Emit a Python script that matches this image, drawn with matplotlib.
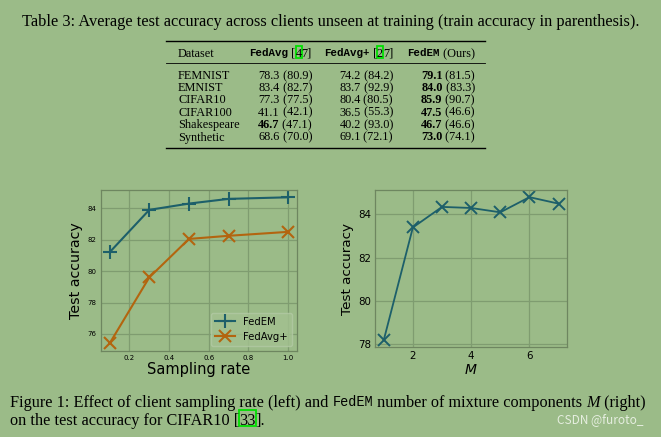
import matplotlib
matplotlib.use("Agg")
import matplotlib.pyplot as plt
from matplotlib.patches import Rectangle

# ---- data ----
datasets = ["FEMNIST", "EMNIST", "CIFAR10", "CIFAR100", "Shakespeare", "Synthetic"]
fedavg_test = [78.3, 83.4, 77.3, 41.1, 46.7, 68.6]
fedavg_train = [80.9, 82.7, 77.5, 42.1, 47.1, 70.0]
fedavgp_test = [74.2, 83.7, 80.4, 36.5, 40.2, 69.1]
fedavgp_train = [84.2, 92.9, 80.5, 55.3, 93.0, 72.1]
fedem_test = [79.1, 84.0, 85.9, 47.5, 46.7, 73.0]
fedem_train = [81.5, 83.3, 90.7, 46.6, 46.6, 74.1]

sampling_rate = [0.1, 0.3, 0.5, 0.7, 1.0]
acc_fedem = [81.2, 83.9, 84.3, 84.6, 84.7]
acc_fedavgp = [75.4, 79.6, 82.05, 82.25, 82.5]

n_components = [1, 2, 3, 4, 5, 6, 7]
acc_m = [78.2, 83.4, 84.35, 84.3, 84.1, 84.8, 84.5]

# ---- style ----
W, H = 661, 437
bg = '#9bbb88'
teal = '#1d5f6a'
orange = '#b3650f'
gridc = '#7f9c70'
spinec = '#6e8660'
link = '#00e000'

serif = dict(family='Liberation Serif', color='black')
mono = dict(family='Liberation Mono', color='black')

fig = plt.figure(figsize=(W / 100, H / 100), dpi=100, facecolor=bg)
r = fig.canvas.get_renderer()


def width(s, props):
    a = fig.text(0, 0, '|' + s + '|', **props)
    b = fig.text(0, 0, '||', **props)
    w = a.get_window_extent(r).width - b.get_window_extent(r).width
    a.remove()
    b.remove()
    return w


def put(x, y, pieces, ha='left'):
    # pieces: (text, props, boxed)
    ws = [width(s, p) for s, p, _ in pieces]
    if ha == 'right':
        x = x - sum(ws)
    for (s, p, boxed), w in zip(pieces, ws):
        fig.text(x / W, 1 - y / H, s, va='center_baseline', ha='left', **p)
        if boxed:
            fs = p.get('size', 10) * 100 / 72
            fig.patches.append(Rectangle((x / W, 1 - (y + 0.42 * fs) / H), w / W, 0.95 * fs / H,
                                         transform=fig.transFigure, fill=False,
                                         edgecolor=link, lw=1.3))
        x += w


cs = 11.8
cap = dict(serif, size=cs)
put(22, 20, [("Table 3: Average test accuracy across clients unseen at training (train accuracy in parenthesis).", cap, False)])

# ---- table ----
ts = 8.8
tser = dict(serif, size=ts)
tserb = dict(serif, size=ts, weight='bold')
tmonob = dict(mono, size=ts * 0.88, weight='bold')

fig.lines.append(plt.Line2D([166 / W, 485 / W], [1 - 41 / H, 1 - 41 / H], color='black', lw=1.0, transform=fig.transFigure))
fig.lines.append(plt.Line2D([166 / W, 485 / W], [1 - 63 / H, 1 - 63 / H], color='black', lw=0.6, transform=fig.transFigure))
fig.lines.append(plt.Line2D([166 / W, 485 / W], [1 - 148 / H, 1 - 148 / H], color='black', lw=1.0, transform=fig.transFigure))

col_right = [312, 393, 475]
hy = 52.5
put(178, hy, [("Dataset", tser, False)])
put(col_right[0], hy, [("FedAvg", tmonob, False), (" [", tser, False), ("4", tser, True), ("7]", tser, False)], ha='right')
put(col_right[1], hy, [("FedAvg+", tmonob, False), (" [", tser, False), ("2", tser, True), ("7]", tser, False)], ha='right')
put(col_right[2], hy, [("FedEM", tmonob, False), (" (Ours)", tser, False)], ha='right')

row_y = [74.5, 86.5, 98.5, 111, 123.5, 136]
for i, name in enumerate(datasets):
    y = row_y[i]
    put(178, y, [(name, tser, False)])
    best = max(fedavg_test[i], fedavgp_test[i], fedem_test[i])
    cols = [(fedavg_test[i], fedavg_train[i]), (fedavgp_test[i], fedavgp_train[i]), (fedem_test[i], fedem_train[i])]
    for (te, tr), xr in zip(cols, col_right):
        p = tserb if te == best else tser
        put(xr, y, [("%.1f" % te, p, False), (" (%.1f)" % tr, tser, False)], ha='right')

# ---- left plot ----
ax1 = fig.add_axes([100.7 / W, 1 - 350.7 / H, (297 - 100.7) / W, (350.7 - 190) / H])
ax1.plot(sampling_rate, acc_fedem, color=teal, marker='+', ms=10, mew=1.5, lw=1.5, label='FedEM')
ax1.plot(sampling_rate, acc_fedavgp, color=orange, marker='x', ms=9, mew=1.5, lw=1.5, label='FedAvg+')
ax1.set_xticks([0.2, 0.4, 0.6, 0.8, 1.0])
ax1.set_yticks([76, 78, 80, 82, 84])
ax1.tick_params(labelsize=5, length=0, pad=3)
ax1.set_xlabel('Sampling rate', fontsize=10.5, labelpad=1)
ax1.set_ylabel('Test accuracy', fontsize=10.2, labelpad=3)
ax1.legend(loc='lower right', fontsize=7.2, facecolor='#a3c190', edgecolor='#b2c9a4', framealpha=0.8)

# ---- right plot ----
ax2 = fig.add_axes([375 / W, 1 - 347.3 / H, (567.3 - 375) / W, (347.3 - 190) / H])
ax2.plot(n_components, acc_m, color=teal, marker='x', ms=8, mew=1.4, lw=1.3)
ax2.set_xticks([2, 4, 6])
ax2.set_yticks([78, 80, 82, 84])
ax2.tick_params(labelsize=7.4, length=0, pad=3)
ax2.set_xlabel('$M$', fontsize=10, labelpad=1)
ax2.set_ylabel('Test accuracy', fontsize=9.7, labelpad=3)

for ax in (ax1, ax2):
    ax.set_facecolor(bg)
    ax.grid(True, color=gridc, lw=0.9)
    for sp in ax.spines.values():
        sp.set_color(spinec)
        sp.set_linewidth(0.9)

# ---- figure caption ----
fs2 = 11.7
cap2 = dict(serif, size=fs2)
put(10, 401, [("Figure 1: Effect of client sampling rate (left) and ", cap2, False),
              ("FedEM", dict(mono, size=fs2 * 0.84), False),
              (" number of mixture components ", cap2, False),
              ("M", dict(cap2, style='italic'), False),
              (" (right)", cap2, False)])
put(10, 419, [("on the test accuracy for CIFAR10 [", cap2, False), ("33", cap2, True), ("].", cap2, False)])

fig.text(557 / W, 1 - 420 / H, "CSDN @furoto_", family=['Noto Sans CJK SC', 'DejaVu Sans'],
         size=8.5, color='#e6eee0', va='center', ha='left')

fig.savefig('out.png', dpi=100, facecolor=bg)
